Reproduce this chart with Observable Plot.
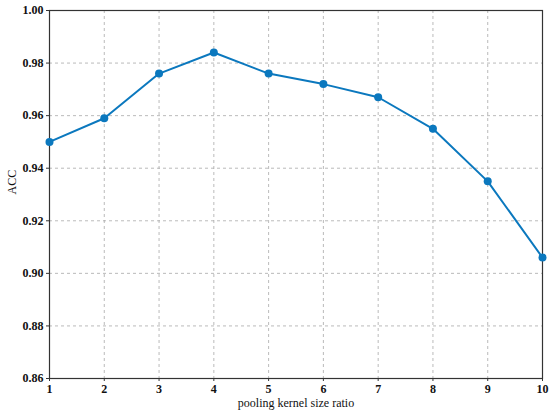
<!DOCTYPE html>
<html>
<head>
<meta charset="utf-8">
<script src="https://cdn.jsdelivr.net/npm/d3@7"></script>
<script src="https://cdn.jsdelivr.net/npm/@observablehq/plot@0.6"></script>
<style>
  html, body { margin: 0; padding: 0; background: #fff; }
  svg text { font-family: "Liberation Serif", "Times New Roman", serif; }
</style>
</head>
<body>
<div id="chart"></div>
<script>
const ratios = [1, 2, 3, 4, 5, 6, 7, 8, 9, 10];
const acc = [0.950, 0.959, 0.976, 0.984, 0.976, 0.972, 0.967, 0.955, 0.935, 0.906];
const xTicks = [1, 2, 3, 4, 5, 6, 7, 8, 9, 10];
const yTicks = [0.86, 0.88, 0.90, 0.92, 0.94, 0.96, 0.98, 1.00];
const xLabel = "pooling kernel size ratio";
const yLabel = "ACC";

const data = ratios.map((r, i) => ({ratio: r, acc: acc[i]}));
const blue = "#0b78be";
const serif = "Liberation Serif";

const chart = Plot.plot({
  width: 550,
  height: 415,
  marginLeft: 49,
  marginRight: 8,
  marginTop: 10,
  marginBottom: 37,
  style: { fontFamily: "'Liberation Serif', 'Times New Roman', serif", background: "#fff", color: "#111" },
  x: { domain: [1, 10] },
  y: { domain: [0.86, 1.0] },
  marks: [
    Plot.gridX(xTicks, { stroke: "#a8a8a8", strokeOpacity: 1, strokeDasharray: "3,3", strokeWidth: 0.8 }),
    Plot.gridY(yTicks, { stroke: "#a8a8a8", strokeOpacity: 1, strokeDasharray: "3,3", strokeWidth: 0.8 }),
    Plot.frame({ stroke: "#333", strokeWidth: 1.2 }),
    Plot.axisX({ ticks: xTicks, tickFormat: d => String(d), tickSize: 3, tickPadding: 3, fontSize: 12, fontWeight: "bold", fontFamily: serif, label: null, stroke: "#333" }),
    Plot.axisY({ ticks: yTicks, tickFormat: d3.format(".2f"), tickSize: 3, tickPadding: 3, fontSize: 12, fontWeight: "bold", fontFamily: serif, label: null, stroke: "#333" }),
    Plot.text([yLabel], { frameAnchor: "left", text: d => d, rotate: -90, dx: -37, fontSize: 12, fontFamily: serif }),
    Plot.text([xLabel], { frameAnchor: "bottom", text: d => d, dy: 28.5, fontSize: 12, fontFamily: serif }),
    Plot.line(data, { x: "ratio", y: "acc", stroke: blue, strokeWidth: 2 }),
    Plot.dot(data, { x: "ratio", y: "acc", fill: blue, r: 4 })
  ]
});
document.getElementById("chart").appendChild(chart);
</script>
</body>
</html>
